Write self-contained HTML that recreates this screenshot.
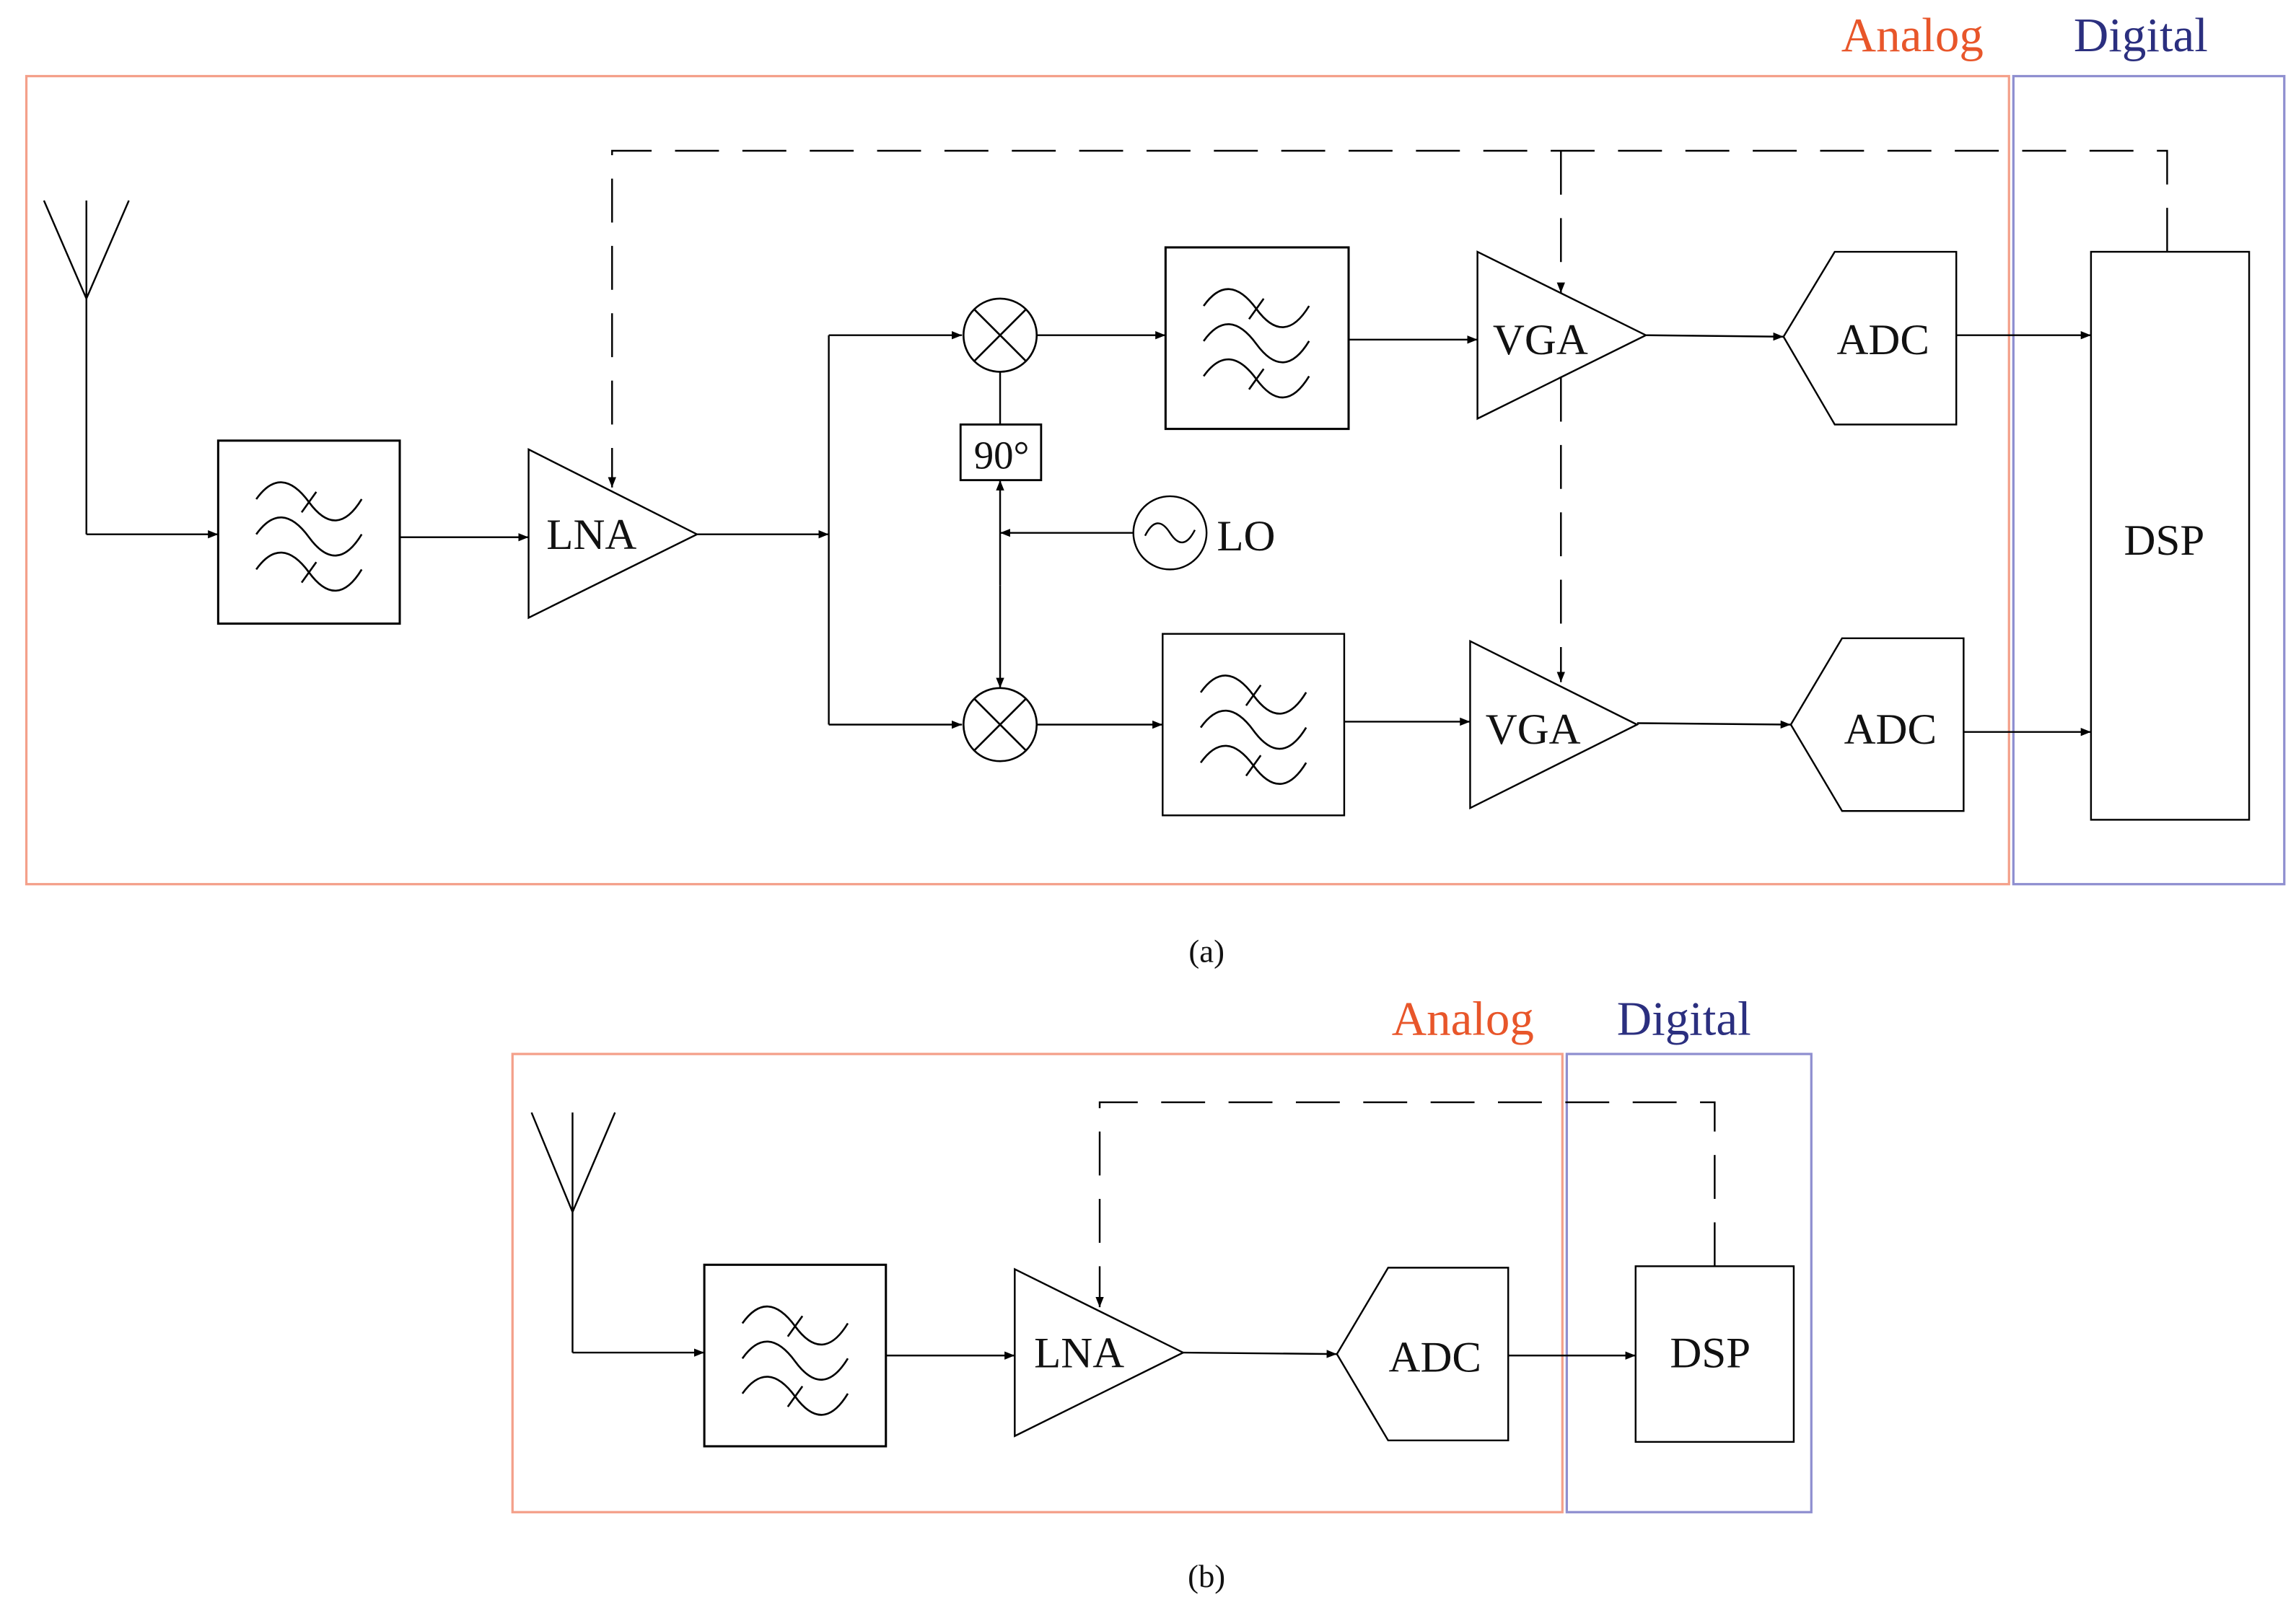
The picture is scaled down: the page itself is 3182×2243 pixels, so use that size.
<!DOCTYPE html>
<html><head><meta charset="utf-8"><style>
html,body{margin:0;padding:0;background:#fff;}
svg{display:block;}
text{font-family:"Liberation Serif",serif;fill:#111;}
</style></head><body>
<svg width="3182" height="2243" viewBox="0 0 1568 1105.3" preserveAspectRatio="none" xmlns="http://www.w3.org/2000/svg">
<defs>
<marker id="a" viewBox="0 0 10 10" refX="10" refY="5" markerWidth="7" markerHeight="7" orient="auto" markerUnits="userSpaceOnUse">
<path d="M0,1 L10,5 L0,9 z" fill="#000"/></marker>
<g id="flt" fill="none" stroke="#000" stroke-width="1.3">
<path d="M0,40 Q17,16 36,42 T72,40"/>
<path d="M0,64 Q17,40 36,66 T72,64"/>
<path d="M0,88 Q17,64 36,90 T72,88"/>
<line x1="31" y1="49" x2="41" y2="35"/>
<line x1="31" y1="97" x2="41" y2="83"/>
</g>
<g id="mix" fill="#fff" stroke="#000" stroke-width="1.3">
<circle cx="0" cy="0" r="25"/>
<line x1="-17.7" y1="-17.7" x2="17.7" y2="17.7"/>
<line x1="-17.7" y1="17.7" x2="17.7" y2="-17.7"/>
</g>
</defs>
<g fill="none" stroke="#000" stroke-width="1.2">
<rect x="18" y="52" width="1354" height="552" stroke="#f4a08a" stroke-width="1.6"/>
<rect x="1375" y="52" width="185" height="552" stroke="#8f8fd0" stroke-width="1.6"/>
<path d="M30,137 L59,204 L88,137 M59,137 L59,365"/>
<line x1="59" y1="365" x2="149" y2="365" marker-end="url(#a)"/>
<rect x="149" y="301" width="124" height="125" stroke-width="1.5"/>
<line x1="273" y1="367" x2="361" y2="367" marker-end="url(#a)"/>
<polygon points="361,307 361,422 476,365"/>
<line x1="476" y1="365" x2="566" y2="365" marker-end="url(#a)"/>
<line x1="566" y1="229" x2="566" y2="495"/>
<line x1="566" y1="229" x2="657" y2="229" marker-end="url(#a)"/>
<line x1="566" y1="495" x2="657" y2="495" marker-end="url(#a)"/>
<line x1="708" y1="229" x2="796" y2="229" marker-end="url(#a)"/>
<rect x="796" y="169" width="125" height="124" stroke-width="1.5"/>
<line x1="921" y1="232" x2="1009" y2="232" marker-end="url(#a)"/>
<polygon points="1009,172 1009,286 1124,229"/>
<line x1="1124" y1="229" x2="1218" y2="230" marker-end="url(#a)"/>
<polygon points="1218,230 1253,172 1336,172 1336,290 1253,290"/>
<line x1="1336" y1="229" x2="1428" y2="229" marker-end="url(#a)"/>
<rect x="1428" y="172" width="108" height="388"/>
<line x1="708" y1="495" x2="794" y2="495" marker-end="url(#a)"/>
<rect x="794" y="433" width="124" height="124"/>
<line x1="918" y1="493" x2="1004" y2="493" marker-end="url(#a)"/>
<polygon points="1004,438 1004,552 1118,495"/>
<line x1="1118" y1="494" x2="1223" y2="495" marker-end="url(#a)"/>
<polygon points="1223,495 1258,436 1341,436 1341,554 1258,554"/>
<line x1="1341" y1="500" x2="1428" y2="500" marker-end="url(#a)"/>
<line x1="683" y1="254" x2="683" y2="290"/>
<rect x="656" y="290" width="55" height="38" stroke-width="1.4"/>
<line x1="683" y1="400" x2="683" y2="328" marker-end="url(#a)"/>
<line x1="683" y1="400" x2="683" y2="470" marker-end="url(#a)"/>
<line x1="774" y1="364" x2="683" y2="364" marker-end="url(#a)"/>
<circle cx="799" cy="364" r="25"/>
<path d="M782,366 Q790,350 799,364 T816,362"/>
<g stroke-dasharray="30,16">
<path d="M1480,172 L1480,103 L418,103 L418,333" marker-end="url(#a)"/>
<line x1="1066" y1="103" x2="1066" y2="200" marker-end="url(#a)"/>
<line x1="1066" y1="258" x2="1066" y2="466" marker-end="url(#a)"/>
</g>
<rect x="350" y="720" width="717" height="313" stroke="#f4a08a" stroke-width="1.6"/>
<rect x="1070" y="720" width="167" height="313" stroke="#8f8fd0" stroke-width="1.6"/>
<path d="M363,760 L391,828 L420,760 M391,760 L391,924"/>
<line x1="391" y1="924" x2="481" y2="924" marker-end="url(#a)"/>
<rect x="481" y="864" width="124" height="124" stroke-width="1.5"/>
<line x1="605" y1="926" x2="693" y2="926" marker-end="url(#a)"/>
<polygon points="693,867 693,981 808,924"/>
<line x1="808" y1="924" x2="913" y2="925" marker-end="url(#a)"/>
<polygon points="913,925 948,866 1030,866 1030,984 948,984"/>
<line x1="1030" y1="926" x2="1117" y2="926" marker-end="url(#a)"/>
<rect x="1117" y="865" width="108" height="120"/>
<path d="M1171,865 L1171,753 L751,753 L751,893" stroke-dasharray="30,16" marker-end="url(#a)"/>
</g>
<use href="#flt" x="175" y="301"/>
<use href="#flt" x="822" y="169"/>
<use href="#flt" x="820" y="433"/>
<use href="#flt" x="507" y="864"/>
<use href="#mix" x="683" y="229"/>
<use href="#mix" x="683" y="495"/>
<g font-size="30" text-anchor="middle">
<text x="404" y="375">LNA</text>
<text x="1052" y="242">VGA</text>
<text x="1047" y="508">VGA</text>
<text x="1286" y="242">ADC</text>
<text x="1291" y="508">ADC</text>
<text x="1478" y="379">DSP</text>
<text x="851" y="376">LO</text>
<text x="684" y="320" font-size="27">90°</text>
<text x="737" y="934">LNA</text>
<text x="980" y="937">ADC</text>
<text x="1168" y="934">DSP</text>
<text x="1306" y="35" font-size="33" style="fill:#e8562a">Analog</text>
<text x="1462" y="35" font-size="33" style="fill:#2b2f7f">Digital</text>
<text x="999" y="707" font-size="33" style="fill:#e8562a">Analog</text>
<text x="1150" y="707" font-size="33" style="fill:#2b2f7f">Digital</text>
<text x="824" y="657" font-size="22">(a)</text>
<text x="824" y="1084" font-size="22">(b)</text>
</g>
</svg>
</body></html>
